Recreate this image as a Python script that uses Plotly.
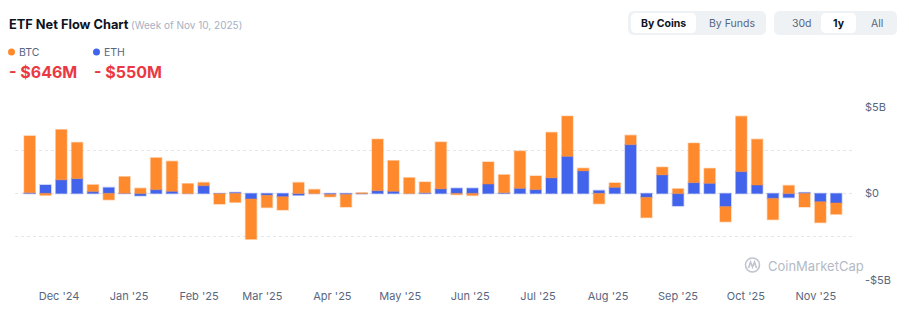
import plotly.graph_objects as go
import pandas as pd

# ---------------- data ----------------
weeks = pd.date_range("2024-11-18", periods=52, freq="7D").strftime("%Y-%m-%d").tolist()

btc_flow_b = [3.28, -0.10, 2.89, 2.09, 0.38, -0.36, 0.95, 0.30, 1.83, 1.73,
              0.57, 0.17, -0.59, -0.51, -2.32, -0.70, -0.76, 0.63, 0.23, -0.13,
              -0.72, 0.04, 2.97, 1.77, 0.91, 0.61, 2.70, -0.06, -0.11, 1.27,
              1.03, 2.15, 0.78, 2.62, 2.32, 0.15, -0.59, 0.25, 0.53, -1.16,
              0.44, 0.27, 2.28, 0.86, -0.87, 3.19, 2.64, -1.22, 0.46, -0.78,
              -1.20, -0.646]

eth_flow_b = [0.05, 0.49, 0.80, 0.86, 0.12, 0.34, 0.02, -0.13, 0.23, 0.13,
              0.00, 0.46, -0.02, 0.06, -0.32, -0.11, -0.19, -0.10, 0.00, -0.06,
              -0.06, -0.02, 0.17, 0.13, 0.00, 0.05, 0.27, 0.30, 0.30, 0.55,
              0.05, 0.30, 0.23, 0.91, 2.15, 1.31, 0.17, 0.36, 2.83, -0.23,
              1.08, -0.72, 0.63, 0.59, -0.76, 1.27, 0.49, -0.29, -0.23, 0.05,
              -0.48, -0.55]

x_tick_dates = ["2024-12-01", "2025-01-01", "2025-02-01", "2025-03-01", "2025-04-01",
                "2025-05-01", "2025-06-01", "2025-07-01", "2025-08-01", "2025-09-01",
                "2025-10-01", "2025-11-01"]
x_tick_labels = ["Dec '24", "Jan '25", "Feb '25", "Mar '25", "Apr '25", "May '25",
                 "Jun '25", "Jul '25", "Aug '25", "Sep '25", "Oct '25", "Nov '25"]
y_tick_vals = [-5, -2.5, 0, 2.5, 5]
y_tick_labels = ["-$5B", "", "$0", "", "$5B"]

btc_latest = "- $646M"
eth_latest = "- $550M"

# ---------------- style ----------------
W, H = 909, 322
ML, MR, MT, MB = 15, 57, 107, 42
PW, PH = W - ML - MR, H - MT - MB
FONT = "Inter, Roboto, sans-serif"
ORANGE = "#FF8A2E"
BLUE = "#4263EB"
GRAY = "#58667E"


def px(x):
    return (x - ML) / PW


def py(y):
    return (MT + PH - y) / PH


fig = go.Figure()
fig.add_trace(go.Bar(x=weeks, y=eth_flow_b, name="ETH",
                     marker=dict(color=BLUE, line=dict(color="rgba(66,99,235,0.35)", width=1.5))))
fig.add_trace(go.Bar(x=weeks, y=btc_flow_b, name="BTC",
                     marker=dict(color=ORANGE, line=dict(color="rgba(255,138,46,0.35)", width=1.5))))

shapes = []


def rrect(x0, y0, x1, y1, r, color):
    # rounded rect in pixel coordinates -> paper path
    pts = (f"M {px(x0 + r)},{py(y0)} L {px(x1 - r)},{py(y0)} "
           f"Q {px(x1)},{py(y0)} {px(x1)},{py(y0 + r)} L {px(x1)},{py(y1 - r)} "
           f"Q {px(x1)},{py(y1)} {px(x1 - r)},{py(y1)} L {px(x0 + r)},{py(y1)} "
           f"Q {px(x0)},{py(y1)} {px(x0)},{py(y1 - r)} L {px(x0)},{py(y0 + r)} "
           f"Q {px(x0)},{py(y0)} {px(x0 + r)},{py(y0)} Z")
    return dict(type="path", xref="paper", yref="paper", path=pts,
                fillcolor=color, line=dict(width=0), layer="above")


shapes.append(rrect(628, 11, 766, 35, 6, "#EFF2F5"))
shapes.append(rrect(631, 13, 696, 33, 5, "#FFFFFF"))
shapes.append(rrect(774, 11, 897, 35, 6, "#EFF2F5"))
shapes.append(rrect(821, 13, 856, 33, 5, "#FFFFFF"))

# legend dots
for cx, col in [(11.5, ORANGE), (96.5, BLUE)]:
    shapes.append(dict(type="circle", xref="paper", yref="paper",
                       x0=px(cx - 3.5), x1=px(cx + 3.5), y0=py(52 + 3.5), y1=py(52 - 3.5),
                       fillcolor=col, line=dict(width=0)))

# watermark logo
shapes.append(dict(type="circle", xref="paper", yref="paper",
                   x0=px(745.5), x1=px(759.5), y0=py(272), y1=py(258),
                   fillcolor="rgba(0,0,0,0)", line=dict(color="#BFC4CE", width=1.6)))
shapes.append(dict(type="path", xref="paper", yref="paper",
                   path=(f"M {px(748.5)},{py(268)} L {px(750.5)},{py(262)} L {px(752.5)},{py(267)} "
                         f"L {px(754.5)},{py(262)} L {px(756.5)},{py(268)}"),
                   line=dict(color="#BFC4CE", width=1.6)))

ann = []


def text(x, y, s, size, color, anchor="left", bold=False):
    ann.append(dict(x=px(x), y=py(y), xref="paper", yref="paper", text=(f"<b>{s}</b>" if bold else s),
                    showarrow=False, xanchor=anchor, yanchor="middle",
                    font=dict(family=FONT, size=size, color=color)))


text(7, 24, "ETF Net Flow Chart", 12.8, "#0D1421", bold=True)
text(129, 24.5, "(Week of Nov 10, 2025)", 10, "#A6B0C3")
text(17, 52.5, "BTC", 10.5, GRAY)
text(102, 52.5, "ETH", 10.5, GRAY)
text(7, 72, btc_latest, 16, "#EA3943", bold=True)
text(92, 72, eth_latest, 16, "#EA3943", bold=True)
text(663, 23, "By Coins", 10.5, "#0D1421", anchor="center", bold=True)
text(732, 23, "By Funds", 10.5, GRAY, anchor="center")
text(802, 23, "30d", 10.5, GRAY, anchor="center")
text(838.5, 23, "1y", 10.5, "#0D1421", anchor="center", bold=True)
text(877, 23, "All", 10.5, GRAY, anchor="center")
text(766, 266, "CoinMarketCap", 13, "#B4BAC6")

fig.update_layout(
    width=W, height=H,
    margin=dict(l=ML, r=MR, t=MT, b=MB, pad=0),
    paper_bgcolor="white", plot_bgcolor="white",
    barmode="relative", bargap=0.3,
    showlegend=False,
    font=dict(family=FONT, size=11, color=GRAY),
    shapes=shapes, annotations=ann,
    xaxis=dict(type="date", range=["2024-11-11 12:00", "2025-11-17"],
               tickvals=x_tick_dates, ticktext=x_tick_labels,
               showgrid=False, zeroline=False, showline=False, ticks="",
               tickfont=dict(family=FONT, size=11, color=GRAY), ticklabelstandoff=8),
    yaxis=dict(side="right", range=[-5, 5], tickvals=y_tick_vals, ticktext=y_tick_labels,
               showgrid=True, gridcolor="#E3E6EB", griddash="dot", gridwidth=1,
               zeroline=False, showline=False, ticks="",
               tickfont=dict(family=FONT, size=11, color=GRAY), ticklabelstandoff=12),
)

fig.write_html("out.html")
